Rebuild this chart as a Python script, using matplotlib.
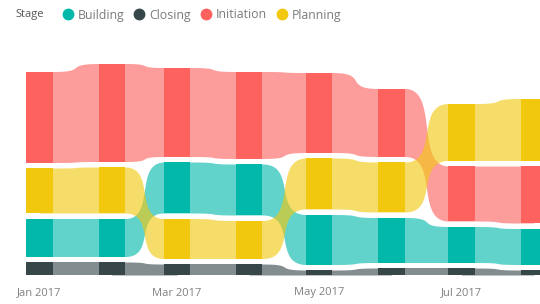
import numpy as np
import matplotlib
matplotlib.use("Agg")
import matplotlib.pyplot as plt
import matplotlib.dates as mdates
from matplotlib.lines import Line2D
import datetime as dt

plt.rcParams['font.family'] = ['Open Sans', 'DejaVu Sans']

# data (ribbon chart, value per stage per month)
months = [dt.date(2017, m, 1) for m in range(1, 9)]
stages = ["Building", "Closing", "Initiation", "Planning"]
values = {
    "Initiation": [91, 98, 89, 87, 80, 68, 55, 57],
    "Planning":   [45, 46, 40, 38, 51, 50, 57, 62],
    "Building":   [38, 38, 51, 51, 50, 45, 36, 36],
    "Closing":    [13, 13, 11, 11, 5, 7, 7, 5],
}
tick_months = [dt.date(2017, 1, 1), dt.date(2017, 3, 1), dt.date(2017, 5, 1), dt.date(2017, 7, 1)]
tick_labels = ["Jan 2017", "Mar 2017", "May 2017", "Jul 2017"]

colors = {"Building": "#01B8AA", "Closing": "#374649",
          "Initiation": "#FD625E", "Planning": "#F2C80F"}

gap = 5.5
col_w = 11.2  # days

fig = plt.figure(figsize=(5.4, 3.04), dpi=100)
ax = fig.add_axes([0, 29 / 304, 1, 240 / 304])

x = mdates.date2num(months)
n = len(months)

# stack: largest on top, smallest at bottom, with gaps
bottoms = {s: np.zeros(n) for s in stages}
for i in range(n):
    order = sorted(stages, key=lambda s: values[s][i])
    b = 0.0
    for s in order:
        bottoms[s][i] = b
        b += values[s][i] + gap

# ribbons: cubic bezier, control points pulled past the middle
k = 0.78
t = np.linspace(0, 1, 301)
bx = 3 * (1 - t) ** 2 * t * k + 3 * (1 - t) * t ** 2 * (1 - k) + t ** 3
by = 3 * (1 - t) * t ** 2 + t ** 3
for s in stages:
    bot = bottoms[s]
    top = bot + np.array(values[s])
    for i in range(n - 1):
        x0 = x[i] + col_w / 2
        x1 = x[i + 1] - col_w / 2
        xs = x0 + (x1 - x0) * bx
        yb = bot[i] + (bot[i + 1] - bot[i]) * by
        yt = top[i] + (top[i + 1] - top[i]) * by
        xs = np.concatenate([[x[i]], xs, [x[i + 1]]])
        yb = np.concatenate([[bot[i]], yb, [bot[i + 1]]])
        yt = np.concatenate([[top[i]], yt, [top[i + 1]]])
        ax.fill_between(xs, yb, yt, color=colors[s], alpha=0.62, lw=0, zorder=1)

# columns
for s in stages:
    ax.bar(x, values[s], bottom=bottoms[s], width=col_w, color=colors[s],
           lw=0, zorder=3)

ax.set_xlim(x[0] - 16.94, x[0] + 214.67)
ax.set_ylim(0, 240)
for sp in ax.spines.values():
    sp.set_visible(False)
ax.set_yticks([])
ax.set_xticks(mdates.date2num(tick_months))
ax.set_xticklabels(tick_labels, fontsize=8, color="#808080")
ax.tick_params(axis="x", length=0, pad=9)

# legend
fig.text(15 / 540, 1 - 15 / 304, "Stage", fontsize=8, color="#555555",
         va="center", ha="left")
handles = [Line2D([], [], marker="o", ls="", markersize=7.5,
                  markerfacecolor=colors[s], markeredgecolor=colors[s]) for s in stages]
fig.legend(handles, stages, loc="center left", bbox_to_anchor=(60.7 / 540, 1 - 15 / 304),
           ncol=4, frameon=False, fontsize=8.8, labelcolor="#7a7a7a",
           handletextpad=0.2, columnspacing=0.62, handlelength=1.2, borderpad=0,
           borderaxespad=0)

fig.savefig("out.png", dpi=100)
